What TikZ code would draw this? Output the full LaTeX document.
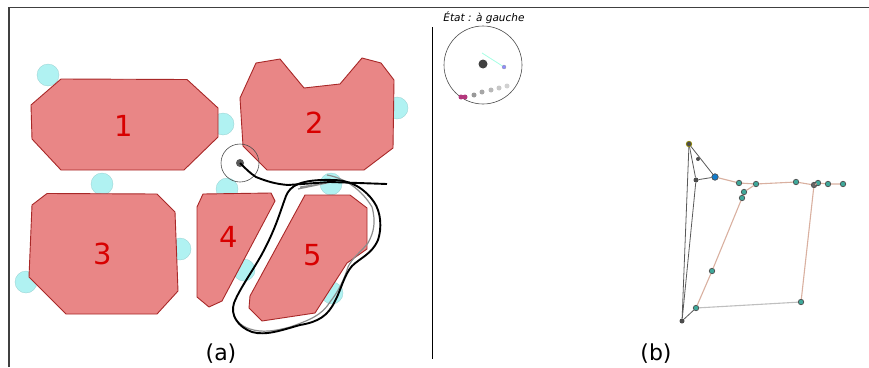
\documentclass[tikz,border=0pt]{standalone}
\usepackage{fontspec}
\setmainfont{DejaVu Sans}
\definecolor{polyfill}{HTML}{E98686}
\definecolor{polyline}{HTML}{A82828}
\definecolor{numred}{HTML}{D80000}
\definecolor{cyanfill}{HTML}{B0F2F2}
\definecolor{tealdot}{HTML}{3FA89A}
\definecolor{peach}{HTML}{D9B0A0}
\tikzset{
  x=1pt,y=-1pt,
  poly/.style={fill=polyfill,draw=polyline,line width=0.9pt,line join=round},
  num/.style={text=numred,font=\fontsize{29}{29}\selectfont,inner sep=0pt},
  caption/.style={font=\fontsize{22}{22}\selectfont,inner sep=0pt},
  spot/.style={circle,fill=cyanfill,draw=cyanfill!85!black,line width=0.3pt,minimum size=22pt,inner sep=0pt},
  trail/.style={line width=1.9pt,black,line join=round},
  ghost/.style={line width=1.2pt,black!45,line join=round},
  gn/.style={circle,fill=tealdot,draw=black!70,line width=0.7pt,minimum size=5.5pt,inner sep=0pt},
  gd/.style={circle,fill=black!70,minimum size=5pt,inner sep=0pt},
  ge/.style={line width=1.1pt,peach},
  gk/.style={line width=0.8pt,black!65},
  mem/.style={circle,fill=#1,minimum size=5pt,inner sep=0pt},
}
\begin{document}
\begin{tikzpicture}
\useasboundingbox (0,0) rectangle (869,367);
% frame
\draw[line width=1.2pt,black!75] (9,367) -- (9,7.5) -- (869,7.5);
\draw[line width=1pt,black] (432.5,27) -- (432.5,359);
% cyan spots
\foreach \n/\p in {s1/{48,75},s2/{102,184},s3/{223,124},s4/{397,108},s5/{227,189},s6/{331,184},s7/{26,282},s8/{180,249},s9/{244,270},s10/{332,293}}
  \node[spot] (\n) at (\p) {};
% polygons
\draw[poly] (61,79) -- (187,79.5) -- (218,108) -- (218,137) -- (184,170) -- (61,170) -- (32,139) -- (31,105) -- cycle;
\draw[poly] (256,63) -- (280,59) -- (304,88) -- (340,84) -- (362,58) -- (381,63) -- (394,80) -- (393,148) -- (364,170) -- (267,170) -- (243,146) -- (240,98) -- cycle;
\draw[poly] (47,193.5) -- (157,194) -- (175,212) -- (178,291) -- (157,314) -- (66,314) -- (29,277) -- (32,205) -- cycle;
\draw[poly] (203,194) -- (271,193) -- (275,201) -- (222,301) -- (209,307) -- (197,297) -- (197,207) -- cycle;
\draw[poly] (305,195) -- (350,195) -- (367,208) -- (367,249) -- (347,263) -- (315,313) -- (262,321) -- (249,308) -- (250,296) -- cycle;
% numbers
\node[num] (n1) at (124,126) {1};
\node[num] (n2) at (315,123) {2};
\node[num] (n3) at (103,254) {3};
\node[num] (n4) at (229,237) {4};
\node[num] (n5) at (313,255) {5};
% robot sensor circle
\node[circle,draw=black!70,line width=0.6pt,minimum size=38pt,inner sep=0pt] (robot) at (240,163) {};
\node[circle,fill=black!65,minimum size=8pt,inner sep=0pt] (body) at (240,163) {};
% trajectories
\draw[ghost] (298,189) -- (327,183) -- (300,187) (327,175)
  .. controls (345,178) and (362,190) .. (372,207)
  .. controls (376,222) and (374,232) .. (368,243)
  .. controls (360,253) and (352,258) .. (348,267)
  .. controls (344,280) and (338,292) .. (330,302)
  .. controls (322,315) and (310,320) .. (290,327)
  .. controls (275,331) and (262,333) .. (250,329)
  .. controls (240,326) and (233,318) .. (233,310);
\draw[trail] (body.center) .. controls (247,170) and (250,173) .. (256,177)
  .. controls (266,181) and (275,184) .. (288,185)
  -- (330,182) -- (387,184);
\draw[trail] (333,180) .. controls (300,179) and (290,186) .. (286,196)
  .. controls (280,212) and (276,228) .. (262,254)
  .. controls (252,272) and (240,288) .. (234,303)
  .. controls (230,315) and (238,327) .. (252,332)
  .. controls (266,336) and (282,330) .. (300,325)
  .. controls (318,322) and (328,316) .. (335,301)
  .. controls (341,290) and (344,275) .. (352,266)
  .. controls (360,258) and (372,254) .. (378,240)
  .. controls (382,228) and (381,212) .. (374,202)
  .. controls (366,190) and (352,180) .. (333,180);
% captions
\node[caption] (ca) at (221,354) {(a)};
\node[caption] (cb) at (656,354) {(b)};
% inset
\node[font=\fontsize{10.5}{11}\selectfont\itshape,inner sep=0pt] (state) at (484,18) {État : à gauche};
\node[circle,draw=black!70,line width=0.6pt,minimum size=78pt,inner sep=0pt] (view) at (483,65) {};
\node[circle,fill=black!75,minimum size=9pt,inner sep=0pt] (self) at (483,64) {};
\coordinate (gtail) at (482,53);
\node[circle,fill=blue!45!white,draw=black!40,line width=0.3pt,minimum size=4pt,inner sep=0pt] (ghead) at (504,67) {};
\draw[line width=0.8pt,green!30!cyan!35!white] (gtail) -- (ghead);
\foreach \n/\p/\c in {m1/{461,97}/magenta!70!black,m2/{465,97}/magenta!70!black,m3/{474,95}/black!40,m4/{482,92}/black!35,m5/{491,90}/black!28,m6/{499,88}/black!22,m7/{507,86}/black!18}
  \node[mem=\c] (\n) at (\p) {};
% graph (b)
\foreach \n/\p in {b5/{739,183},b6/{756,184},b7/{744,192},b8/{742,198},b9/{796,182},b11/{818,183},b12/{828,184},b13/{843,184},b14/{712,271},b15/{696,308},b16/{801,302}}
  \node[gn] (\n) at (\p) {};
\node[gn,fill=black!60] (b10) at (814,185) {};
\node[gn,fill=black!70,draw=olive] (b1) at (689,144) {};
\node[gd,minimum size=4pt] (b2) at (698,159) {};
\node[gd] (b3) at (696,180) {};
\node[gn,fill=cyan!60!blue,minimum size=6.5pt] (b4) at (715,177) {};
\node[gd] (b17) at (682,321) {};
\draw[gk] (b1) -- (b17);
\draw[gk] (b1) -- (b3) -- (b17);
\draw[gk] (b1) -- (b4);
\draw[gk] (b3) -- (b4);
\draw[gk] (b15) -- (b17);
\draw[ge] (b4) -- (b5);
\draw[ge] (b5) -- (b6) -- (b7) -- (b8) -- (b14) -- (b15);
\draw[ge,black!25] (b15) -- (b16);
\draw[ge] (b16) -- (b10);
\draw[ge] (b6) -- (b9) -- (b10) -- (b11) -- (b12) -- (b13);
\end{tikzpicture}
\end{document}
